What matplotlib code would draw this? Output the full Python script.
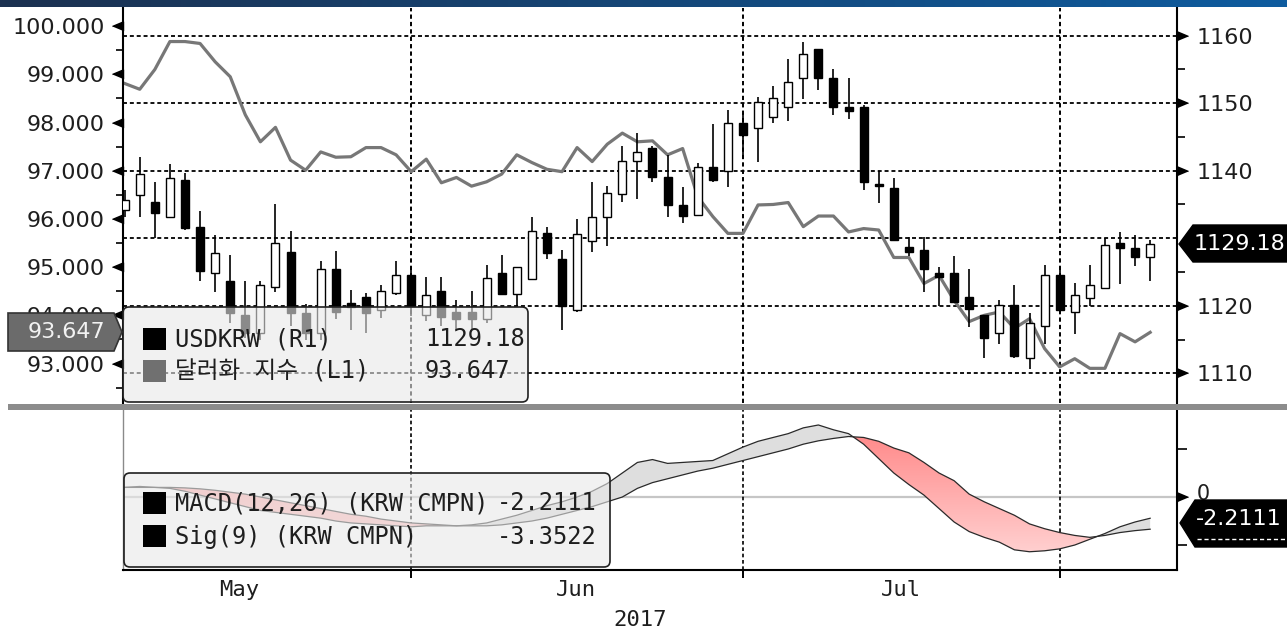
import numpy as np
import matplotlib
matplotlib.use("Agg")
import matplotlib.pyplot as plt
from matplotlib.colors import LinearSegmentedColormap
from matplotlib.patches import FancyBboxPatch, Polygon, Rectangle, PathPatch
from matplotlib.path import Path
from matplotlib.transforms import IdentityTransform

# --- USDKRW daily candles (R1) ---
krw_open = [1134.2, 1136.4, 1135.3, 1133.1, 1138.6, 1131.7, 1124.8, 1123.7, 1118.7, 1115.9,
            1122.8, 1127.9, 1118.9, 1115.9, 1125.4, 1120.4, 1121.3, 1119.4, 1121.9, 1124.5,
            1118.6, 1122.2, 1119.1, 1119.1, 1118.1, 1124.8, 1121.8, 1123.9, 1130.8, 1126.9,
            1119.4, 1129.6, 1133.1, 1136.6, 1141.5, 1143.3, 1139.1, 1134.9, 1133.4, 1140.6,
            1139.9, 1147.1, 1146.3, 1148.0, 1149.5, 1153.7, 1158.0, 1153.7, 1149.4, 1149.4,
            1138.0, 1137.4, 1128.7, 1128.3, 1124.8, 1124.9, 1121.3, 1118.6, 1115.9, 1120.1,
            1112.2, 1117.0, 1124.5, 1119.1, 1121.2, 1122.7, 1129.3, 1128.6, 1127.2]
krw_high = [1137.1, 1142.0, 1138.3, 1141.0, 1139.7, 1134.1, 1130.5, 1127.5, 1123.7, 1123.7,
            1135.1, 1131.1, 1120.3, 1126.6, 1128.1, 1122.3, 1121.9, 1123.1, 1126.7, 1125.7,
            1124.3, 1124.2, 1120.8, 1122.2, 1126.0, 1127.5, 1125.8, 1133.2, 1131.7, 1128.3,
            1132.8, 1138.3, 1137.7, 1143.7, 1145.6, 1143.6, 1142.3, 1137.6, 1141.2, 1146.9,
            1149.0, 1148.5, 1150.9, 1152.5, 1156.5, 1159.1, 1158.1, 1155.0, 1153.8, 1149.7,
            1140.0, 1138.9, 1130.2, 1130.2, 1125.7, 1127.3, 1125.5, 1118.7, 1120.8, 1123.1,
            1118.9, 1126.0, 1125.7, 1123.3, 1126.0, 1130.0, 1130.9, 1130.5, 1129.8]
krw_low = [1133.2, 1133.1, 1130.0, 1133.1, 1131.2, 1123.6, 1122.1, 1117.5, 1115.2, 1115.0,
           1122.1, 1117.0, 1115.0, 1115.0, 1118.0, 1116.4, 1115.9, 1118.2, 1121.6, 1118.5,
           1117.8, 1117.0, 1116.2, 1116.4, 1117.5, 1121.7, 1119.9, 1123.9, 1126.9, 1116.4,
           1119.1, 1127.9, 1128.8, 1135.4, 1135.8, 1138.4, 1133.1, 1132.2, 1133.4, 1138.4,
           1137.6, 1141.8, 1141.3, 1147.0, 1147.4, 1150.6, 1151.9, 1148.3, 1147.6, 1137.1,
           1135.2, 1129.7, 1127.3, 1122.1, 1120.0, 1120.4, 1116.9, 1112.2, 1114.4, 1112.2,
           1110.7, 1114.4, 1119.1, 1115.8, 1120.0, 1122.7, 1123.2, 1125.9, 1123.6]
krw_close = [1135.7, 1139.5, 1133.7, 1138.9, 1131.5, 1125.1, 1127.8, 1118.9, 1115.9, 1123.1,
             1129.3, 1118.9, 1115.9, 1125.4, 1119.1, 1119.8, 1118.9, 1122.2, 1124.5, 1119.9,
             1121.6, 1118.4, 1118.1, 1118.0, 1124.1, 1121.7, 1125.7, 1131.1, 1127.8, 1120.0,
             1130.7, 1133.1, 1136.7, 1141.5, 1142.7, 1139.1, 1134.9, 1133.3, 1140.6, 1138.6,
             1147.1, 1145.3, 1150.2, 1150.7, 1153.1, 1157.3, 1153.7, 1149.5, 1148.9, 1138.4,
             1137.8, 1129.8, 1128.0, 1125.4, 1124.3, 1120.6, 1119.5, 1115.2, 1120.1, 1112.5,
             1117.4, 1124.5, 1119.4, 1121.6, 1123.1, 1129.0, 1128.5, 1127.2, 1129.18]

# --- 달러화 지수 (L1) ---
dxy = [98.81, 98.69, 99.10, 99.68, 99.68, 99.64, 99.26, 98.95, 98.16, 97.60,
       97.90, 97.22, 97.01, 97.39, 97.28, 97.29, 97.48, 97.48, 97.33, 96.98,
       97.24, 96.75, 96.86, 96.68, 96.77, 96.93, 97.33, 97.17, 97.03, 96.98,
       97.48, 97.19, 97.55, 97.78, 97.60, 97.62, 97.33, 97.46, 96.46, 96.05,
       95.70, 95.70, 96.29, 96.30, 96.34, 95.84, 96.06, 96.06, 95.73, 95.80,
       95.77, 95.20, 95.20, 94.66, 94.83, 94.31, 93.87, 94.00, 94.07, 93.73,
       93.93, 93.31, 92.93, 93.10, 92.90, 92.90, 93.62, 93.45, 93.647]

# --- MACD(12,26) / Sig(9) ---
macd = [1.0, 1.1, 1.0, 0.9, 0.6, 0.2, -0.2, -0.6, -1.0, -1.4,
        -1.6, -1.8, -2.0, -2.2, -2.5, -2.7, -2.8, -2.9, -3.0, -3.1,
        -3.0, -3.0, -3.0, -2.9, -2.7, -2.3, -1.9, -1.4, -0.9, -0.5,
        0.0, 0.6, 1.4, 2.5, 3.6, 3.9, 3.5, 3.6, 3.7, 3.8,
        4.5, 5.2, 5.8, 6.2, 6.6, 7.2, 7.5, 7.0, 6.6, 5.5,
        4.0, 2.5, 1.3, 0.2, -1.2, -2.6, -3.6, -4.2, -4.7, -5.5,
        -5.7, -5.6, -5.4, -5.0, -4.4, -3.8, -3.1, -2.6, -2.2111]
macd_sig = [1.0, 1.0, 1.0, 1.0, 0.95, 0.85, 0.7, 0.5, 0.3, 0.0,
            -0.3, -0.6, -0.9, -1.2, -1.5, -1.8, -2.0, -2.3, -2.5, -2.7,
            -2.8, -2.9, -3.0, -3.0, -3.0, -2.9, -2.7, -2.5, -2.2, -1.8,
            -1.4, -1.0, -0.5, 0.0, 0.9, 1.5, 1.9, 2.3, 2.7, 3.0,
            3.4, 3.8, 4.2, 4.6, 5.0, 5.5, 5.85, 6.1, 6.3, 6.2,
            5.8, 5.1, 4.6, 3.6, 2.5, 1.7, 0.3, -0.5, -1.2, -1.9,
            -2.8, -3.3, -3.7, -4.0, -4.2, -4.0, -3.7, -3.5, -3.3522]

month_names = ['May', 'Jun', 'Jul']
month_label_pos = [7.6, 29.9, 51.5]
month_bounds = [19, 41, 62]
year_label = '2017'
year_pos = 34.2

left_ticks = [93, 94, 95, 96, 97, 98, 99, 100]
left_minor = [92.5, 93.5, 94.5, 95.5, 96.5, 97.5, 98.5, 99.5]
grid_levels = [1110, 1120, 1130, 1140, 1150, 1160]
right_ticks = [1110, 1120, 1140, 1150, 1160]   # 1130 sits under the last-price flag
right_minor = [1115, 1125, 1135, 1145, 1155]

# --- layout helpers (pixel coords, origin top-left) ---
W, H = 1287, 630
def fx(px): return px / W
def fy(py): return 1 - py / H
def disp(x, y): return (x, H - y)

TXT = '#1e1e1e'
MONO = ['DejaVu Sans Mono', 'Noto Sans CJK KR']
plt.rcParams['font.family'] = ['DejaVu Sans', 'Noto Sans CJK KR']

fig = plt.figure(figsize=(W / 100, H / 100), dpi=100)
x = np.arange(len(krw_close))
xlim = (-0.11, 69.78)

ax_l = fig.add_axes([fx(123), fy(403), fx(1177) - fx(123), fy(8) - fy(403)])
ax_r = ax_l.twinx()
ax_m = fig.add_axes([fx(123), fy(570), fx(1177) - fx(123), fy(410) - fy(570)])

tri_l = [(0, -0.42), (0, 0.42), (-1, 0)]
tri_r = [(0, -0.42), (0, 0.42), (1, 0)]
dash = (0, (2.2, 1.6))

# --- top panel: gridlines, dollar index ---
for v in grid_levels:
    ax_l.plot(xlim, [v, v], color='black', lw=1.3, ls=dash, transform=ax_r.transData,
              scalex=False, scaley=False, zorder=0.5)
for b in month_bounds:
    ax_l.axvline(b, color='black', lw=1.4, ls=dash, zorder=0.5)
ax_l.plot(x, dxy, color='#777777', lw=2.3, solid_joinstyle='round', zorder=2)

# --- candles ---
o = np.array(krw_open); c = np.array(krw_close)
up = c >= o
ax_r.vlines(x, krw_low, krw_high, color='black', lw=1.2, zorder=3)
ax_r.bar(x, np.abs(c - o), bottom=np.minimum(o, c), width=0.53,
         color=np.where(up, 'white', 'black'), edgecolor='black', linewidth=1.0, zorder=4)

ax_l.set_xlim(*xlim); ax_r.set_xlim(*xlim)
ax_l.set_ylim(92.181, 100.376)
ax_r.set_ylim(1105.60, 1164.10)

for a in (ax_l, ax_r):
    for s in ('top', 'bottom'):
        a.spines[s].set_visible(False)
    a.set_xticks([])
ax_l.spines['right'].set_visible(False)
ax_r.spines['left'].set_visible(False)
ax_l.spines['left'].set_linewidth(1.5)
ax_r.spines['right'].set_linewidth(1.5)

ax_l.set_yticks(left_ticks)
ax_l.set_yticklabels([f'{v:.3f}' for v in left_ticks])
ax_l.set_yticks(left_minor, minor=True)
ax_l.tick_params(axis='y', which='major', length=0, pad=13, labelsize=16, labelcolor=TXT)
ax_l.tick_params(axis='y', which='minor', length=5, width=1.2, direction='out')
ax_r.set_yticks(right_ticks)
ax_r.set_yticklabels([str(v) for v in right_ticks])
ax_r.set_yticks(right_minor, minor=True)
ax_r.tick_params(axis='y', which='major', length=0, pad=14, labelsize=16, labelcolor=TXT)
ax_r.tick_params(axis='y', which='minor', length=6, width=1.2, direction='out')

ax_l.plot([0] * len(left_ticks), left_ticks, ls='none', marker=tri_l, ms=15.8,
          color='black', transform=ax_l.get_yaxis_transform(), clip_on=False, zorder=6)
ax_r.plot([1] * len(right_ticks), right_ticks, ls='none', marker=tri_r, ms=15.8,
          color='black', transform=ax_r.get_yaxis_transform(), clip_on=False, zorder=6)

# --- bottom panel: MACD ---
m = np.array(macd); s = np.array(macd_sig)
ax_m.axhline(0, color='#c6c6c6', lw=1.6, zorder=0.8)
for b in month_bounds:
    ax_m.axvline(b, color='black', lw=1.2, ls=dash, zorder=0.9)
ax_m.fill_between(x, m, s, where=m >= s, interpolate=True, color='#dedede', lw=0, zorder=1.5)
red = ax_m.fill_between(x, m, s, where=m < s, interpolate=True, facecolor='none', lw=0)
clip = PathPatch(Path.make_compound_path(*red.get_paths()), transform=ax_m.transData,
                 facecolor='none', edgecolor='none')
ax_m.add_patch(clip)
mylim = (-7.60, 9.06)
grad = np.linspace(0, 1, 256).reshape(-1, 1)
im = ax_m.imshow(grad, extent=[xlim[0], xlim[1], mylim[0], mylim[1]], origin='lower',
                 cmap=LinearSegmentedColormap.from_list('r', ['#ffdada', '#ff7c7c']),
                 aspect='auto', zorder=1.6)
im.set_clip_path(clip)
ax_m.plot(x, m, color='#2a2a2a', lw=0.9, zorder=2)
ax_m.plot(x, s, color='#2a2a2a', lw=0.9, zorder=2)
ax_m.set_xlim(*xlim)
ax_m.set_ylim(*mylim)

ax_m.spines['top'].set_visible(False)
ax_m.spines['left'].set_color('#8a8a8a')
ax_m.spines['left'].set_linewidth(1.0)
ax_m.spines['bottom'].set_linewidth(1.5)
ax_m.spines['right'].set_linewidth(1.5)
ax_m.yaxis.tick_right()
ax_m.set_yticks([-5, 5])
ax_m.set_yticklabels([])
ax_m.tick_params(axis='y', length=7, width=1.2, direction='out')
ax_m.set_xticks(month_bounds)
ax_m.set_xticklabels([])
ax_m.tick_params(axis='x', length=6, width=1.4, direction='out')
ax_m.plot([1], [0], ls='none', marker=tri_r, ms=15.8, color='black',
          transform=ax_m.get_yaxis_transform(), clip_on=False, zorder=6)
ax_m.text(1.0, 0.3, '   0', transform=ax_m.get_yaxis_transform(), ha='left', va='center',
          fontsize=15, color=TXT)

for name, pos in zip(month_names, month_label_pos):
    ax_m.text(pos, -0.125, name, transform=ax_m.get_xaxis_transform(), ha='center',
              va='center', fontsize=16, family=MONO, color=TXT)
ax_m.text(year_pos, -0.31, year_label, transform=ax_m.get_xaxis_transform(), ha='center',
          va='center', fontsize=16, family=MONO, color=TXT)

# --- figure-level decorations ---
bar_ax = fig.add_axes([0, fy(7), 1, 7 / H])
bar_ax.imshow(np.linspace(0, 1, 256).reshape(1, -1), aspect='auto',
              cmap=LinearSegmentedColormap.from_list('b', ['#1c3150', '#0e5c9f']))
bar_ax.axis('off')

fig.patches.append(Rectangle(disp(8, 410), 1279, 6, transform=IdentityTransform(),
                             facecolor='#8c8c8c', edgecolor='none', zorder=4))

def legend_box(x0, y0, x1, y1):
    fig.patches.append(FancyBboxPatch(disp(x0, y1), x1 - x0, y1 - y0,
                       boxstyle='round,pad=0,rounding_size=6', transform=IdentityTransform(),
                       facecolor=(0.91, 0.91, 0.91, 0.6), edgecolor='#202020', lw=1.2, zorder=5))

def swatch(x0, y0, color):
    fig.patches.append(Rectangle(disp(x0, y0 + 22), 23, 22, transform=IdentityTransform(),
                                 facecolor=color, edgecolor='none', zorder=6))

legend_box(123, 307, 528, 402)
swatch(143, 328, 'black')
swatch(143, 360, '#707070')
fig.text(fx(175), fy(339), 'USDKRW (R1)', fontsize=17, family=MONO, color=TXT, va='center', zorder=7)
fig.text(fx(175), fy(371), '달러화 지수 (L1)', fontsize=17, family=MONO, color=TXT, va='center', zorder=7)
fig.text(fx(425), fy(339), f'{krw_close[-1]:.2f}', fontsize=17, family=MONO, color=TXT, va='center', zorder=7)
fig.text(fx(425), fy(371), f'{dxy[-1]:.3f}', fontsize=17, family=MONO, color=TXT, va='center', zorder=7)

legend_box(124, 473, 610, 567)
swatch(143, 492, 'black')
swatch(143, 525, 'black')
fig.text(fx(175), fy(503), 'MACD(12,26) (KRW CMPN)', fontsize=17, family=MONO, color=TXT, va='center', zorder=7)
fig.text(fx(175), fy(537), 'Sig(9) (KRW CMPN)', fontsize=17, family=MONO, color=TXT, va='center', zorder=7)
fig.text(fx(597), fy(503), f'{macd[-1]:.4f}', fontsize=17, family=MONO, color=TXT, va='center', ha='right', zorder=7)
fig.text(fx(597), fy(537), f'{macd_sig[-1]:.4f}', fontsize=17, family=MONO, color=TXT, va='center', ha='right', zorder=7)

# last-value flags
fig.patches.append(Polygon([disp(8, 313), disp(114, 313), disp(122, 332), disp(114, 351), disp(8, 351)],
                           closed=True, transform=IdentityTransform(), facecolor='#6b6b6b',
                           edgecolor='#333333', lw=1.2, zorder=6))
fig.text(fx(66), fy(332), f'{dxy[-1]:.3f}', fontsize=16, color='#f2f2f2', ha='center', va='center', zorder=7)

fig.patches.append(Polygon([disp(1179, 244), disp(1193, 225), disp(1287, 225), disp(1287, 262), disp(1193, 262)],
                           closed=True, transform=IdentityTransform(), facecolor='black',
                           edgecolor='black', zorder=6))
fig.text(fx(1194), fy(244), f'{krw_close[-1]:.2f}', fontsize=16, color='white', ha='left', va='center', zorder=7)

fig.patches.append(Polygon([disp(1180, 523), disp(1195, 500), disp(1287, 500), disp(1287, 547), disp(1195, 547)],
                           closed=True, transform=IdentityTransform(), facecolor='black',
                           edgecolor='black', zorder=6))
fig.text(fx(1196), fy(519), f'{macd[-1]:.4f}', fontsize=16, color='white', ha='left', va='center', zorder=7)
fig.lines.append(plt.Line2D([fx(1197), fx(1287)], [fy(539), fy(539)], transform=fig.transFigure,
                            color='white', lw=1.0, ls=(0, (3, 2)), zorder=7))

fig.savefig('out.png', dpi=100)
